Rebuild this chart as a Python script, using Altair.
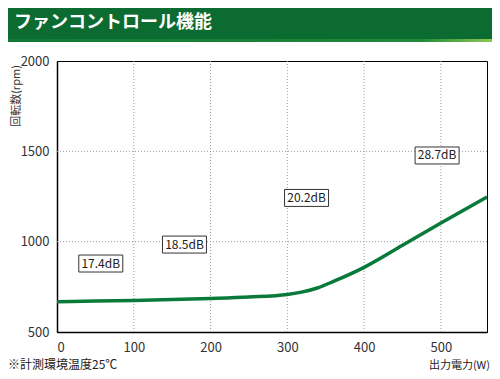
import altair as alt
import pandas as pd

# Data
power_w = [0, 50, 100, 150, 200, 250, 300, 320, 340, 360, 400, 450, 500, 560]
rpm = [668, 671, 675, 680, 686, 694, 708, 722, 745, 780, 858, 980, 1103, 1247]

label_text = ["17.4dB", "18.5dB", "20.2dB", "28.7dB"]
label_x = [57, 166, 325, 495]
label_y = [879, 984, 1242, 1477]

x_ticks = [0, 100, 200, 300, 400, 500]
y_ticks = [500, 1000, 1500, 2000]
x_grid = [100, 200, 300, 400, 500]
y_grid = [1000, 1500]

title_text = "ファンコントロール機能"
y_title = "回転数(rpm)"
x_title = "出力電力(W)"
footnote = "※計測環境温度25℃"

FONT = "Noto Sans CJK JP"
W, H = 430, 271

curve_df = pd.DataFrame({"w": power_w, "rpm": rpm})
lab_df = pd.DataFrame({"t": label_text, "w": label_x, "rpm": label_y})
xg_df = pd.DataFrame({"w": x_grid})
yg_df = pd.DataFrame({"rpm": y_grid})
one = pd.DataFrame({"a": [0]})

xs = alt.Scale(domain=[0, 560], nice=False, zero=False)
ys = alt.Scale(domain=[500, 2000], nice=False, zero=False)

x_axis = alt.Axis(values=x_ticks, title=None, grid=False, ticks=False, format="d",
                  domainColor="#000", domainWidth=1.5, labelPadding=9,
                  labelFont=FONT, labelFontSize=13, labelColor="#333")
y_axis = alt.Axis(values=y_ticks, title=None, grid=False, ticks=False, format="d",
                  domainColor="#000", domainWidth=1.5, labelPadding=8,
                  labelFont=FONT, labelFontSize=13, labelColor="#333")

xgrid = alt.Chart(xg_df).mark_rule(color="#9a9a9a", strokeDash=[1, 2], strokeWidth=1).encode(
    x=alt.X("w:Q", scale=xs, axis=x_axis)
)
ygrid = alt.Chart(yg_df).mark_rule(color="#9a9a9a", strokeDash=[1, 2], strokeWidth=1).encode(
    y=alt.Y("rpm:Q", scale=ys, axis=y_axis)
)

curve = alt.Chart(curve_df).mark_line(color="#0a7a3a", strokeWidth=3.5, interpolate="monotone").encode(
    x=alt.X("w:Q", scale=xs, axis=x_axis),
    y=alt.Y("rpm:Q", scale=ys, axis=y_axis),
)

boxes = alt.Chart(lab_df).mark_point(
    shape="M-1,-0.386L1,-0.386L1,0.386L-1,0.386Z", size=1936, filled=True,
    fill="white", stroke="#333", strokeWidth=1, opacity=1,
).encode(x=alt.X("w:Q", scale=xs, axis=x_axis), y=alt.Y("rpm:Q", scale=ys, axis=y_axis))

texts = alt.Chart(lab_df).mark_text(font=FONT, fontSize=12, color="#222").encode(
    x=alt.X("w:Q", scale=xs, axis=x_axis), y=alt.Y("rpm:Q", scale=ys, axis=y_axis), text="t:N"
)

banner = alt.Chart(one).mark_rect(color="#0c6b31").encode(
    x=alt.value(-49), x2=alt.value(435), y=alt.value(-53), y2=alt.value(-19)
)
stripe = alt.Chart(one).mark_rect(
    color=alt.LinearGradient(
        gradient="linear", x1=0, x2=1, y1=0, y2=0,
        stops=[alt.GradientStop(offset=0, color="#0f7a36"),
               alt.GradientStop(offset=0.85, color="#1f8a3a"),
               alt.GradientStop(offset=1, color="#8cc850")],
    )
).encode(x=alt.value(-49), x2=alt.value(435), y=alt.value(-22), y2=alt.value(-19))

title = alt.Chart(one).mark_text(font=FONT, fontSize=18, color="white", align="left",
                                 baseline="middle", fontWeight="bold").encode(
    x=alt.value(-43), y=alt.value(-38), text=alt.value(title_text)
)

ytitle = alt.Chart(one).mark_text(font=FONT, fontSize=11, color="#333", angle=270,
                                  align="center", baseline="middle").encode(
    x=alt.value(-40), y=alt.value(35), text=alt.value(y_title)
)
xtitle = alt.Chart(one).mark_text(font=FONT, fontSize=11, color="#222", align="right",
                                  baseline="middle").encode(
    x=alt.value(433), y=alt.value(305), text=alt.value(x_title)
)
foot = alt.Chart(one).mark_text(font=FONT, fontSize=12, color="#222", align="left",
                                baseline="bottom").encode(
    x=alt.value(-49), y=alt.value(311), text=alt.value(footnote)
)

chart = alt.layer(xgrid, ygrid, curve, boxes, texts, banner, stripe, title, ytitle, xtitle, foot).properties(
    width=W, height=H,
    autosize=alt.AutoSizeParams(type="none"),
    padding={"left": 49, "top": 53, "right": 5, "bottom": 39},
).configure_view(stroke="#000", strokeWidth=1)

chart.save("out.html", embed_options={"renderer": "svg", "actions": False})
